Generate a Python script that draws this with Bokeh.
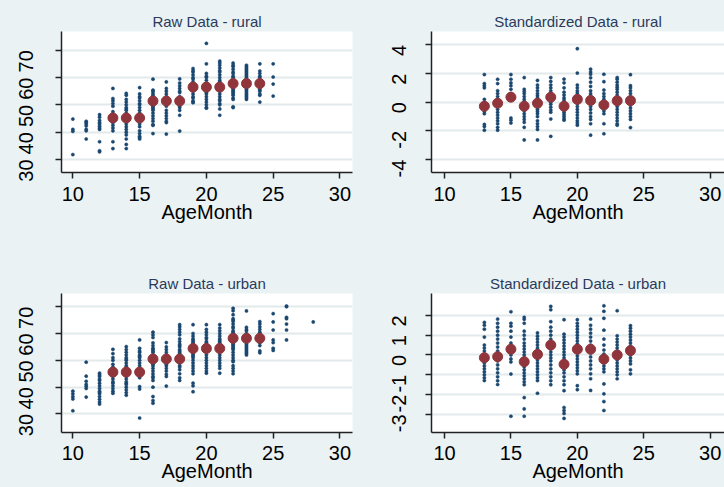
import math
from bokeh.plotting import figure
from bokeh.layouts import row, column
from bokeh.models import FixedTicker, Range1d
from bokeh.embed import file_html
from bokeh.resources import INLINE

# ---------------- data ----------------
mean_months = [13, 14, 15, 16, 17, 18, 19, 20, 21, 22, 23, 24]

rural_raw_months = [10, 11, 12, 13, 14, 15, 16, 17, 18, 19, 20, 21, 22, 23, 24, 25]
rural_raw_values = [
    [44.8, 41.0, 40.3, 31.8],
    [44.0, 43.5, 43.0, 42.3, 41.0, 40.5, 37.5],
    [46.4, 45.5, 44.3, 43.5, 43.0, 42.2, 41.5, 41.0, 36.5, 33.2, 32.8],
    [56.0, 52.3, 51.5, 50.5, 49.5, 47.5, 46.5, 45.5, 45.0, 44.5, 44.0, 43.5, 42.5, 41.5, 40.5, 36.5, 34.0],
    [54.2, 53.5, 52.0, 51.0, 50.0, 49.0, 48.5, 48.0, 47.0, 46.0, 45.0, 44.0, 43.0, 42.0, 41.0, 40.0, 39.0, 37.5, 35.5, 34.0],
    [56.3, 54.0, 53.0, 52.5, 51.5, 50.5, 50.0, 49.0, 48.0, 47.0, 46.0, 45.0, 44.0, 43.0, 42.0, 40.5, 39.5, 38.5, 38.0, 37.5],
    [59.4, 55.4, 55.0, 54.2, 53.5, 53.0, 52.0, 51.5, 51.0, 50.5, 50.0, 49.5, 49.0, 48.5, 48.0, 47.0, 46.0, 45.0, 44.0, 42.8, 42.5, 39.5],
    [58.4, 56.0, 55.0, 54.0, 53.0, 52.0, 51.0, 50.0, 49.5, 48.0, 47.0, 46.0, 45.0, 44.0, 43.5, 39.3],
    [59.5, 58.0, 57.0, 56.0, 55.0, 54.5, 53.0, 52.0, 51.5, 51.0, 50.5, 50.0, 49.5, 49.0, 48.0, 46.2, 40.4],
    [63.3, 62.5, 62.0, 61.0, 60.0, 59.5, 58.5, 57.5, 56.5, 56.0, 55.5, 55.0, 54.0, 53.0, 52.5, 51.5, 51.0, 50.8],
    [72.5, 65.0, 61.5, 60.5, 60.0, 59.0, 58.0, 57.0, 56.0, 55.5, 55.0, 54.5, 54.0, 53.0, 52.0, 51.0, 50.0, 49.0, 48.8],
    [66.0, 65.3, 64.5, 63.5, 62.5, 62.0, 61.0, 60.0, 59.0, 58.5, 58.0, 57.5, 57.0, 56.5, 56.0, 55.5, 55.0, 54.0, 53.0, 52.0, 51.5, 50.5, 50.0, 48.5, 46.2],
    [65.3, 64.5, 64.0, 63.0, 62.0, 61.5, 60.5, 60.0, 59.5, 59.0, 58.5, 58.0, 57.5, 57.0, 56.5, 56.0, 55.5, 55.0, 54.5, 54.0, 53.5, 52.5, 52.0, 49.3, 49.0],
    [64.5, 64.0, 63.5, 63.0, 62.5, 62.0, 61.5, 61.0, 60.5, 60.0, 59.5, 59.0, 58.5, 58.0, 57.5, 57.0, 56.5, 56.0, 55.5, 55.0, 54.5, 54.0, 53.5, 53.0, 52.5, 52.0],
    [65.0, 62.4, 61.5, 60.5, 60.0, 59.0, 58.5, 58.0, 57.5, 57.0, 56.0, 55.5, 55.0, 54.0, 53.5, 51.0],
    [65.0, 60.2, 57.6, 53.2],
]
rural_raw_mean = [45.2, 45.2, 45.2, 51.4, 51.4, 51.4, 56.5, 56.5, 56.5, 57.8, 57.8, 57.8]

rural_std_months = [13, 14, 15, 16, 17, 18, 19, 20, 21, 22, 23, 24]
rural_std_values = [
    [1.93, 1.3, 1.15, 1.0, 0.2, 0.0, -0.2, -0.35, -0.5, -0.65, -0.8, -1.55, -1.7, -1.95],
    [1.6, 1.3, 0.8, 0.6, 0.4, 0.2, 0.05, -0.1, -0.3, -0.5, -0.7, -0.9, -1.1, -1.3, -1.5, -1.75, -1.95],
    [1.93, 1.6, 1.35, 1.15, 0.9, 0.6, 0.45, 0.3, -1.1, -1.25, -1.45],
    [1.72, 0.9, 0.75, 0.6, 0.4, 0.2, 0.05, -0.1, -0.3, -0.45, -0.6, -0.8, -1.0, -1.2, -1.4, -1.75, -2.63],
    [1.52, 1.2, 1.0, 0.8, 0.6, 0.45, 0.3, 0.1, -0.05, -0.2, -0.35, -0.5, -0.65, -0.8, -1.0, -1.3, -1.5, -1.7, -1.9, -2.63],
    [1.72, 1.45, 1.2, 1.0, 0.8, 0.6, 0.45, 0.3, 0.15, 0.0, -0.15, -0.35, -0.55, -0.7, -1.17, -2.38],
    [1.61, 1.35, 1.0, 0.7, 0.5, 0.3, 0.15, -0.05, -0.2, -0.4, -0.55, -0.7, -0.85, -1.0, -1.15, -1.25],
    [3.73, 2.03, 1.2, 1.0, 0.8, 0.65, 0.5, 0.35, 0.2, 0.05, -0.1, -0.3, -0.5, -0.7, -0.9, -1.1, -1.3, -1.45, -1.6],
    [2.3, 2.1, 1.95, 1.7, 1.4, 1.1, 0.8, 0.6, 0.45, 0.3, 0.1, -0.1, -0.3, -0.5, -0.75, -1.0, -1.2, -1.5, -2.3],
    [1.95, 1.43, 0.85, 0.6, 0.4, 0.2, 0.0, -0.2, -0.4, -0.6, -0.8, -1.5, -2.2],
    [1.72, 1.6, 1.4, 1.2, 1.05, 0.9, 0.7, 0.5, 0.3, 0.1, -0.1, -0.3, -0.5, -0.7, -0.9, -1.1, -1.3, -1.5, -1.6],
    [1.92, 1.15, 1.0, 0.8, 0.6, 0.4, 0.2, 0.0, -0.2, -0.4, -0.6, -0.8, -1.0, -1.2, -1.77],
]
rural_std_mean = [-0.28, -0.07, 0.35, -0.28, -0.07, 0.35, -0.28, 0.2, 0.12, -0.19, 0.1, 0.11]

urban_raw_months = [10, 11, 12, 13, 14, 15, 16, 17, 18, 19, 20, 21, 22, 23, 24, 25, 26, 28]
urban_raw_values = [
    [38.5, 37.5, 36.5, 35.6, 31.2],
    [49.3, 44.1, 42.2, 41.0, 40.3, 39.5, 36.3],
    [45.2, 44.5, 44.0, 43.0, 42.5, 41.5, 40.5, 39.5, 38.5, 38.0, 37.5, 36.5, 35.5, 34.5, 33.7],
    [54.1, 52.5, 51.0, 50.0, 48.5, 47.5, 46.5, 45.5, 45.0, 44.0, 43.0, 42.0, 41.5, 40.5, 39.5, 38.5, 37.7],
    [55.1, 54.0, 53.0, 52.0, 51.0, 50.5, 50.0, 49.0, 48.0, 47.5, 47.0, 46.0, 45.5, 45.0, 44.0, 43.0, 42.0, 41.5, 41.0, 40.0, 39.0, 38.0, 37.0],
    [57.6, 54.5, 53.5, 53.0, 52.0, 51.5, 51.0, 50.0, 49.0, 48.0, 47.0, 46.5, 46.0, 45.5, 45.0, 44.0, 43.5, 40.2, 39.3, 28.5],
    [60.5, 59.5, 58.5, 56.5, 55.5, 54.5, 54.0, 53.5, 53.0, 52.0, 51.5, 51.0, 50.5, 50.0, 49.5, 49.0, 48.5, 48.0, 47.0, 46.0, 45.0, 44.0, 43.5, 42.5, 40.0, 36.5, 35.0, 34.0],
    [56.6, 55.0, 54.0, 53.0, 52.0, 51.5, 51.0, 50.5, 50.0, 49.5, 49.0, 48.5, 48.0, 47.0, 46.0, 44.8, 44.0, 40.4],
    [63.3, 62.5, 61.5, 60.5, 59.5, 58.0, 57.0, 56.0, 55.5, 55.0, 54.0, 53.5, 53.0, 52.5, 52.0, 51.5, 51.0, 50.5, 50.0, 49.5, 49.0, 48.0, 47.5, 46.5, 45.0, 43.5, 42.5],
    [63.3, 60.0, 59.0, 58.0, 57.5, 57.0, 56.5, 56.0, 55.5, 55.0, 54.5, 54.0, 53.5, 53.0, 52.5, 52.0, 51.5, 51.0, 50.0, 49.0, 48.0, 47.0, 46.0, 45.0, 41.5, 40.5, 38.3],
    [63.3, 61.5, 60.5, 59.5, 58.5, 58.0, 57.0, 56.5, 56.0, 55.5, 55.0, 54.5, 54.0, 53.5, 53.0, 52.0, 51.0, 50.0, 49.0, 48.0, 47.0, 46.0, 45.2],
    [63.3, 62.0, 61.0, 60.0, 59.0, 58.0, 57.5, 57.0, 56.5, 56.0, 55.5, 55.0, 54.5, 54.0, 53.5, 53.0, 52.0, 51.0, 50.0, 49.0, 48.0, 47.0, 45.2],
    [69.4, 68.5, 67.0, 65.5, 65.0, 64.5, 63.5, 62.5, 62.0, 61.0, 60.5, 60.0, 59.5, 59.0, 58.5, 58.0, 57.5, 57.0, 56.5, 56.0, 55.5, 55.0, 54.5, 54.0, 53.0, 52.0, 51.0, 50.0, 49.5, 48.0, 47.0, 46.0, 45.0],
    [68.4, 62.3, 61.5, 61.0, 60.0, 59.5, 59.0, 58.5, 58.0, 57.5, 57.0, 56.5, 56.0, 55.5, 55.0, 54.5, 54.0, 53.5, 53.0, 52.5, 52.0],
    [64.4, 63.5, 62.5, 61.5, 60.5, 60.0, 59.5, 59.0, 58.5, 58.0, 57.5, 57.0, 56.5, 55.5, 53.5, 52.8],
    [67.4, 64.3, 61.3, 57.6, 56.6, 54.5, 53.7],
    [70.2, 70.0, 66.0, 65.5, 63.5, 61.3, 57.6],
    [64.3],
]
urban_raw_mean = [45.6, 45.6, 45.6, 50.5, 50.5, 50.5, 54.4, 54.4, 54.4, 58.2, 58.2, 58.2]

urban_std_months = [13, 14, 15, 16, 17, 18, 19, 20, 21, 22, 23, 24]
urban_std_values = [
    [1.64, 1.5, 1.3, 0.9, 0.5, 0.35, 0.2, 0.05, -0.1, -0.25, -0.4, -0.55, -0.7, -0.85, -1.0, -1.15, -1.29],
    [1.81, 1.6, 1.4, 1.2, 1.0, 0.8, 0.6, 0.4, 0.2, 0.05, -0.1, -0.3, -0.5, -0.7, -0.9, -1.1, -1.3, -1.49],
    [2.18, 1.6, 1.45, 1.2, 0.9, 0.6, 0.45, 0.3, 0.15, 0.0, -0.2, -0.35, -0.96, -3.09],
    [1.9, 1.8, 1.6, 1.2, 1.0, 0.8, 0.6, 0.45, 0.3, 0.15, 0.0, -0.15, -0.3, -0.45, -0.6, -0.75, -0.9, -1.05, -1.2, -1.35, -1.5, -2.15, -2.72, -3.09],
    [1.11, 0.95, 0.8, 0.65, 0.5, 0.35, 0.2, 0.05, -0.1, -0.25, -0.4, -0.55, -0.7, -0.85, -1.0, -1.15, -1.29, -1.93],
    [2.45, 2.28, 1.68, 1.4, 1.2, 1.0, 0.8, 0.6, 0.45, 0.3, 0.15, 0.0, -0.15, -0.3, -0.5, -0.7, -0.9, -1.1, -1.3, -1.5],
    [1.78, 1.05, 0.9, 0.75, 0.6, 0.45, 0.3, 0.15, 0.0, -0.15, -0.3, -0.45, -0.6, -0.75, -0.9, -1.1, -1.3, -1.5, -1.8, -2.65, -2.8, -2.95, -3.2],
    [1.78, 1.6, 1.45, 1.3, 1.15, 1.0, 0.85, 0.7, 0.55, 0.4, 0.25, 0.1, -0.05, -0.2, -0.35, -0.5, -0.65, -0.8, -0.95, -1.55, -1.75],
    [1.81, 1.5, 1.3, 1.1, 0.9, 0.7, 0.5, 0.3, 0.1, -0.1, -0.3, -0.5, -0.7, -0.95, -1.2, -1.79],
    [2.48, 2.2, 1.85, 1.25, 0.8, 0.5, 0.25, 0.05, -0.1, -0.25, -0.4, -0.55, -0.7, -0.85, -1.46, -1.96, -2.35, -2.8],
    [2.23, 0.97, 0.8, 0.65, 0.5, 0.35, 0.2, 0.05, -0.1, -0.25, -0.4, -0.55, -0.7, -0.85, -1.0, -1.2],
    [1.48, 1.35, 1.2, 1.05, 0.9, 0.75, 0.6, 0.45, 0.3, 0.15, 0.0, -0.15, -0.3, -0.45, -0.75, -0.95],
]
urban_std_mean = [-0.14, -0.09, 0.29, -0.34, 0.03, 0.5, -0.47, 0.29, 0.29, -0.21, 0.0, 0.22]

x_ticks = [10, 15, 20, 25, 30]
raw_y_ticks = [30, 40, 50, 60, 70]
rural_std_y_ticks = [-4, -2, 0, 2, 4]
urban_std_y_ticks = [-3, -2, -1, 0, 1, 2]

titles = ["Raw Data - rural", "Standardized Data - rural",
          "Raw Data - urban", "Standardized Data - urban"]
x_label = "AgeMonth"

# ---------------- style ----------------
BG = "#eaf2f3"
NAVY = "#1a476f"
MAROON = "#90353b"
GRID = "#e2eaec"
FONT = "Liberation Sans"


def panel(title, months, values, means, yticks, xr, yr, w, h, bl, br, bt, bb,
          ystand, xstand, lstand):
    p = figure(width=w, height=h, x_range=Range1d(*xr), y_range=Range1d(*yr),
               output_backend="svg", toolbar_location=None,
               min_border_left=bl, min_border_right=br,
               min_border_top=bt, min_border_bottom=bb)
    p.border_fill_color = BG
    p.background_fill_color = "white"
    p.outline_line_color = None

    p.title.text = title
    p.title.align = "center"
    p.title.text_font = FONT
    p.title.text_font_size = "15px"
    p.title.text_font_style = "normal"
    p.title.text_color = "#2a3a5c"
    p.title.standoff = 3

    xs = [m for m, col in zip(months, values) for _ in col]
    ys = [v for col in values for v in col]
    p.scatter(xs, ys, size=3.2, color=NAVY, line_color=NAVY, line_width=0.5)
    p.scatter(mean_months, means, size=10, color=MAROON, line_color=MAROON)

    p.xaxis.ticker = FixedTicker(ticks=x_ticks)
    p.yaxis.ticker = FixedTicker(ticks=yticks)
    p.xaxis.major_label_overrides = {t: str(t) for t in x_ticks}
    p.yaxis.major_label_overrides = {t: str(t) for t in yticks}
    p.xaxis.axis_label = x_label
    for ax in (p.xaxis, p.yaxis):
        ax.axis_line_color = "#222222"
        ax.axis_line_width = 1.5
        ax.major_tick_line_color = "#222222"
        ax.major_tick_line_width = 1.5
        ax.major_tick_out = 6
        ax.major_tick_in = 0
        ax.minor_tick_line_color = None
        ax.major_label_text_font = FONT
        ax.major_label_text_font_size = "20px"
        ax.major_label_text_color = "black"
    p.xaxis.axis_label_text_font = FONT
    p.xaxis.axis_label_text_font_size = "20px"
    p.xaxis.axis_label_text_font_style = "normal"
    p.xaxis.axis_label_text_color = "black"
    p.xaxis.major_label_standoff = xstand
    p.xaxis.axis_label_standoff = lstand
    p.yaxis.major_label_orientation = math.pi / 2
    p.yaxis.major_label_standoff = ystand

    p.xgrid.grid_line_color = None
    p.ygrid.ticker = FixedTicker(ticks=yticks)
    p.ygrid.grid_line_color = GRID
    p.ygrid.grid_line_width = 2
    return p


p1 = panel(titles[0], rural_raw_months, rural_raw_values, rural_raw_mean, raw_y_ticks,
           (9.15, 30.94), (25.24, 76.85), 362, 242, 61, 10, 31, 70, 29, 8, -3)
p2 = panel(titles[1], rural_std_months, rural_std_values, rural_std_mean, rural_std_y_ticks,
           (9.02, 31.08), (-4.9, 4.93), 362, 242, 69, 0, 31, 70, 26, 8, -3)
p3 = panel(titles[2], urban_raw_months, urban_raw_values, urban_raw_mean, raw_y_ticks,
           (9.15, 30.94), (23.1, 74.9), 362, 245, 61, 10, 51, 55, 29, 7, -3)
p4 = panel(titles[3], urban_std_months, urban_std_values, urban_std_mean, urban_std_y_ticks,
           (9.02, 31.08), (-3.91, 3.1), 362, 245, 69, 0, 51, 55, 26, 7, -3)

layout = column(row(p1, p2, spacing=0), row(p3, p4, spacing=0), spacing=0,
                styles={"background-color": BG})
open("out.html", "w").write(file_html(layout, INLINE))
